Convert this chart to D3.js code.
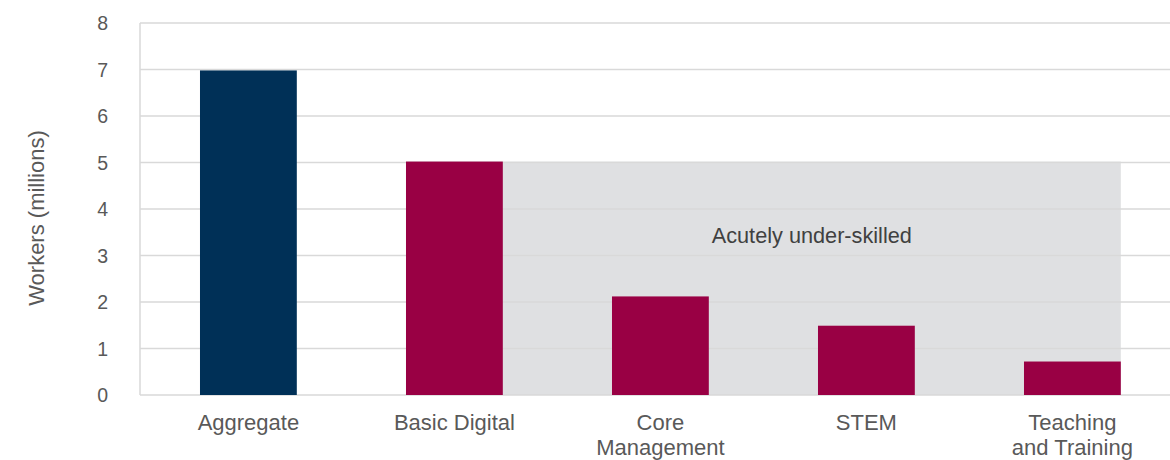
<!DOCTYPE html>
<html><head><meta charset="utf-8">
<script src="https://cdn.jsdelivr.net/npm/d3@7"></script>
<style>body{margin:0;background:#fff}svg text{font-family:"Liberation Sans",Arial,sans-serif}</style>
</head><body>
<svg id="c" width="1170" height="460"></svg>
<script>
const categories = ["Aggregate", "Basic Digital", "Core Management", "STEM", "Teaching and Training"];
const labelLines = [["Aggregate"], ["Basic Digital"], ["Core", "Management"], ["STEM"], ["Teaching", "and Training"]];
const values = [6.98, 5.02, 2.12, 1.49, 0.72];
const barColors = ["#003057", "#990044", "#990044", "#990044", "#990044"];
const yTicks = [0, 1, 2, 3, 4, 5, 6, 7, 8];
const bandLabel = "Acutely under-skilled";
const bandFrom = "Basic Digital", bandTo = "Teaching and Training";
const bandValue = 5.02;

const svg = d3.select("#c");
const mLeft = 140, mRight = 1170, mTop = 23, mBottom = 395;
const y = d3.scaleLinear().domain([0, 8]).range([mBottom, mTop]);
const x = d3.scaleBand().domain(categories).range([145.4, 1175.4]).paddingInner(0.53).paddingOuter(0.265);

// shaded band
svg.append("rect")
  .attr("x", x(bandFrom)).attr("y", y(bandValue))
  .attr("width", x(bandTo) + x.bandwidth() - x(bandFrom))
  .attr("height", y(0) - y(bandValue))
  .attr("fill", "#dfe0e2");

// gridlines
svg.append("g").selectAll("line").data(yTicks).join("line")
  .attr("x1", mLeft).attr("x2", mRight)
  .attr("y1", d => y(d)).attr("y2", d => y(d))
  .attr("stroke", "#d9d9d9").attr("stroke-width", 1.5);
svg.append("line").attr("x1", mLeft).attr("x2", mLeft).attr("y1", y(8)).attr("y2", y(0))
  .attr("stroke", "#d9d9d9").attr("stroke-width", 1.5);

// bars
svg.append("g").selectAll("rect").data(values).join("rect")
  .attr("x", (d, i) => x(categories[i])).attr("width", x.bandwidth())
  .attr("y", d => y(d)).attr("height", d => y(0) - y(d))
  .attr("fill", (d, i) => barColors[i]);

// y tick labels
svg.append("g").selectAll("text").data(yTicks).join("text")
  .attr("x", 108).attr("y", d => y(d)).attr("dy", "0.36em")
  .attr("text-anchor", "end").attr("font-size", 19.5).attr("fill", "#595959")
  .text(d => d);

// y axis title
svg.append("text").attr("transform", "translate(36,218) rotate(-90)")
  .attr("text-anchor", "middle").attr("dy", "0.35em").attr("font-size", 22).attr("fill", "#595959")
  .text("Workers (millions)");

// x labels
const xl = svg.append("g").selectAll("text").data(categories).join("text")
  .attr("x", d => x(d) + x.bandwidth() / 2).attr("y", 430)
  .attr("text-anchor", "middle").attr("font-size", 22).attr("fill", "#595959");
xl.each(function(d, i) {
  d3.select(this).selectAll("tspan").data(labelLines[i]).join("tspan")
    .attr("x", x(d) + x.bandwidth() / 2).attr("dy", (t, j) => j ? 24.5 : 0).text(t => t);
});

// band label
svg.append("text")
  .attr("x", (x(bandFrom) + x.bandwidth() + x(bandTo) + x.bandwidth()) / 2)
  .attr("y", 243).attr("text-anchor", "middle").attr("font-size", 21.7).attr("fill", "#404040")
  .text(bandLabel);
</script>
</body></html>
